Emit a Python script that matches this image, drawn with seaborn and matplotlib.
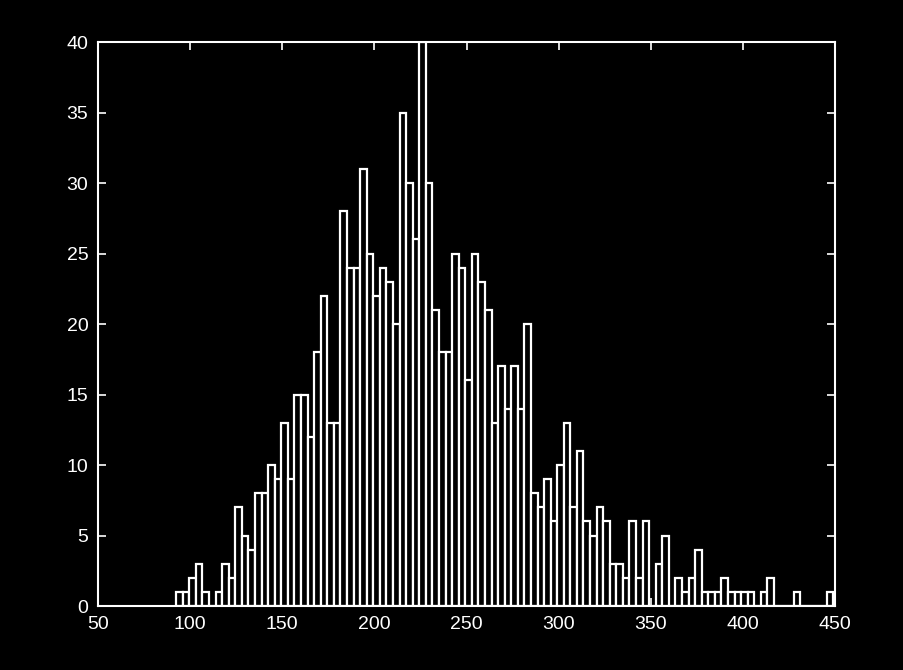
import numpy as np
import pandas as pd
import matplotlib
matplotlib.use("Agg")
import matplotlib.pyplot as plt
import seaborn as sns

# Histograma: 100 clases entre ~92 y ~449
bin_lo = 92.4
bin_hi = 449.0
conteos = [
    1, 1, 2, 3, 1, 0, 1, 3, 2, 7,
    5, 4, 8, 8, 10, 9, 13, 9, 15, 15,
    12, 18, 22, 13, 13, 28, 24, 24, 31, 25,
    22, 24, 23, 20, 35, 30, 26, 40, 30, 21,
    18, 18, 25, 24, 16, 25, 23, 21, 13, 17,
    14, 17, 14, 20, 8, 7, 9, 6, 10, 13,
    7, 11, 6, 5, 7, 6, 3, 3, 2, 6,
    2, 6, 0, 3, 5, 0, 2, 1, 2, 4,
    1, 1, 1, 2, 1, 1, 1, 1, 0, 1,
    2, 0, 0, 0, 1, 0, 0, 0, 0, 1,
]
xticks = [50, 100, 150, 200, 250, 300, 350, 400, 450]
yticks = [0, 5, 10, 15, 20, 25, 30, 35, 40]

bordes = np.linspace(bin_lo, bin_hi, len(conteos) + 1)
centros = (bordes[:-1] + bordes[1:]) / 2
df = pd.DataFrame({"valor": centros, "n": conteos})

sns.set_style("dark", {"axes.facecolor": "black", "figure.facecolor": "black"})
plt.rcParams["font.family"] = ["Liberation Sans", "DejaVu Sans"]

fig = plt.figure(figsize=(9.04, 6.70), dpi=100)
fig.patch.set_facecolor("black")
ax = fig.add_axes([0.1084, 0.0955, 0.8153, 0.8418])
ax.set_facecolor("black")

sns.histplot(data=df, x="valor", weights="n", bins=bordes.tolist(), ax=ax,
             color="black", edgecolor="white", linewidth=1.6, alpha=1)

ax.set_xlim(50, 450)
ax.set_ylim(0, 40)
ax.set_xticks(xticks)
ax.set_yticks(yticks)
ax.set_xlabel("")
ax.set_ylabel("")
ax.grid(False)
for s in ax.spines.values():
    s.set_visible(True)
    s.set_color("white")
    s.set_linewidth(1.5)
ax.tick_params(direction="in", colors="white", labelcolor="white",
               labelsize=14, length=6, width=1.2,
               top=True, right=True, bottom=True, left=True)
ax.tick_params(axis="x", pad=7)
ax.tick_params(axis="y", pad=7)

fig.savefig("out.png", dpi=100, facecolor="black")
